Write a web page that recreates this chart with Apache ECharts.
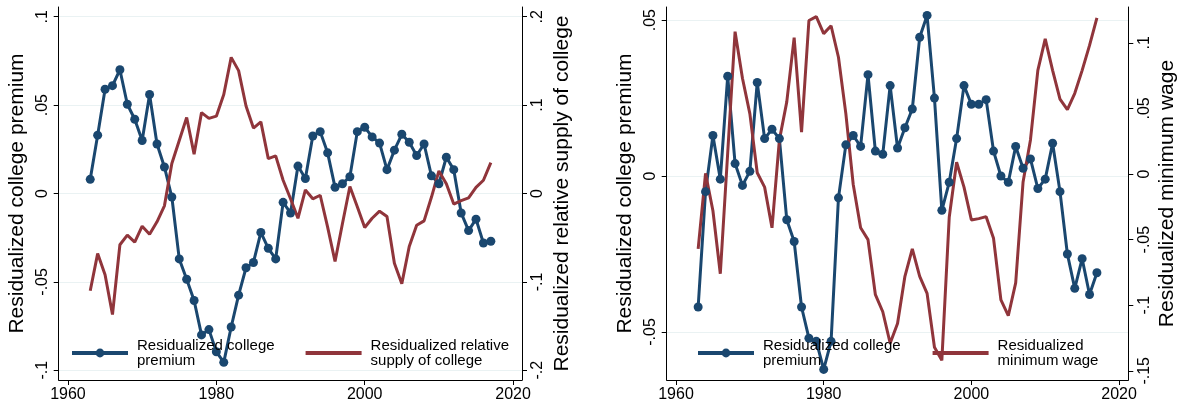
<!DOCTYPE html>
<html>
<head>
<meta charset="utf-8">
<script src="https://cdn.jsdelivr.net/npm/echarts@6/dist/echarts.min.js"></script>
<style>
  html, body { margin: 0; padding: 0; background: #fff; }
  #chart { width: 1180px; height: 411px; }
</style>
</head>
<body>
<div id="chart"></div>
<script>
const years = [
  1963, 1964, 1965, 1966, 1967, 1968, 1969, 1970, 1971, 1972,
  1973, 1974, 1975, 1976, 1977, 1978, 1979, 1980, 1981, 1982,
  1983, 1984, 1985, 1986, 1987, 1988, 1989, 1990, 1991, 1992,
  1993, 1994, 1995, 1996, 1997, 1998, 1999, 2000, 2001, 2002,
  2003, 2004, 2005, 2006, 2007, 2008, 2009, 2010, 2011, 2012,
  2013, 2014, 2015, 2016, 2017
];

// left panel
const premiumA = [
  0.008, 0.033, 0.059, 0.061, 0.070, 0.0505, 0.042, 0.030, 0.056, 0.028,
  0.015, -0.002, -0.037, -0.0485, -0.0605, -0.080, -0.077, -0.0895, -0.0955, -0.0755,
  -0.0575, -0.042, -0.039, -0.022, -0.031, -0.037, -0.005, -0.011, 0.0155, 0.0085,
  0.0325, 0.035, 0.023, 0.0035, 0.0055, 0.0095, 0.035, 0.0375, 0.032, 0.0285,
  0.0135, 0.0245, 0.0335, 0.029, 0.0215, 0.028, 0.010, 0.0055, 0.0205, 0.0135,
  -0.011, -0.021, -0.0145, -0.028, -0.027
];
const supplyA = [
  -0.110, -0.068, -0.092, -0.137, -0.058, -0.047, -0.055, -0.037, -0.046, -0.032,
  -0.014, 0.034, 0.060, 0.086, 0.0445, 0.0915, 0.085, 0.0875, 0.112, 0.154,
  0.139, 0.099, 0.074, 0.081, 0.0395, 0.0425, 0.015, -0.006, -0.028, 0.004,
  -0.006, -0.002, -0.038, -0.077, -0.034, 0.008, -0.015, -0.0385, -0.028, -0.020,
  -0.026, -0.079, -0.102, -0.060, -0.036, -0.031, -0.004, 0.0255, 0.011, -0.012,
  -0.008, -0.005, 0.007, 0.015, 0.035
];

// right panel
const premiumB = [
  -0.042, -0.005, 0.013, -0.001, 0.032, 0.004, -0.003, 0.0015, 0.030, 0.012,
  0.015, 0.012, -0.014, -0.021, -0.042, -0.052, -0.053, -0.062, -0.053, -0.007,
  0.010, 0.013, 0.0095, 0.0325, 0.008, 0.007, 0.029, 0.009, 0.0155, 0.0215,
  0.0445, 0.0515, 0.025, -0.011, -0.002, 0.012, 0.029, 0.023, 0.023, 0.0245,
  0.008, 0.0, -0.002, 0.0095, 0.0025, 0.0055, -0.004, -0.001, 0.0105, -0.005,
  -0.025, -0.036, -0.0265, -0.038, -0.031
];
const minwageB = [
  -0.057, 0.0005, -0.028, -0.076, 0.016, 0.1085, 0.073, 0.046, 0.001, -0.010,
  -0.041, 0.026, 0.055, 0.104, 0.032, 0.117, 0.120, 0.107, 0.113, 0.089,
  0.046, -0.008, -0.041, -0.050, -0.092, -0.105, -0.129, -0.114, -0.078, -0.057,
  -0.078, -0.091, -0.132, -0.142, -0.033, 0.009, -0.010, -0.035, -0.034, -0.0325,
  -0.049, -0.096, -0.108, -0.083, -0.006, 0.026, 0.079, 0.103, 0.079, 0.057,
  0.049, 0.0615, 0.079, 0.098, 0.119
];

const xTicks = [1960, 1980, 2000, 2020];
const leftTicksA = [-0.1, -0.05, 0, 0.05, 0.1];
const rightTicksA = [-0.2, -0.1, 0, 0.1, 0.2];
const leftTicksB = [-0.05, 0, 0.05];
const rightTicksB = [-0.15, -0.1, -0.05, 0, 0.05, 0.1];

// legend labels, two lines each like the original
const legendText = {
  'Residualized college premium': 'Residualized college\npremium',
  'Residualized college premium ': 'Residualized college\npremium',
  'Residualized relative supply of college': 'Residualized relative\nsupply of college',
  'Residualized minimum wage': 'Residualized\nminimum wage'
};

const NAVY = '#1a476f';
const MAROON = '#90353b';
const FONT = 'Liberation Sans, Arial, Helvetica, sans-serif';

const fmt = (v) => String(+Number(v).toFixed(4)).replace('0.', '.');
const pairs = (vals) => years.map((y, i) => [y, vals[i]]);

function xAxisFor(gi, min, max) {
  return {
    gridIndex: gi, type: 'value', min: min, max: max,
    axisLine: { show: true, onZero: false, lineStyle: { color: '#000', width: 1 } },
    axisTick: { show: true, customValues: xTicks, length: 5, lineStyle: { color: '#000' } },
    axisLabel: { customValues: xTicks, formatter: (v) => String(v), fontSize: 16, color: '#000', fontFamily: FONT, margin: 7 },
    splitLine: { show: false }
  };
}

function yAxisFor(gi, pos, min, max, ticks, name, gap, grid) {
  return {
    gridIndex: gi, type: 'value', position: pos, min: min, max: max,
    axisLine: { show: true, onZero: false, lineStyle: { color: '#000', width: 1 } },
    axisTick: { show: true, customValues: ticks, length: 5, lineStyle: { color: '#000' } },
    axisLabel: { customValues: ticks, rotate: 90, formatter: fmt, fontSize: 16, color: '#000', fontFamily: FONT, margin: 8 },
    splitLine: { show: grid, lineStyle: { color: '#eaf2f3', width: 1 } },
    name: name, nameLocation: 'middle', nameGap: gap,
    nameTextStyle: { fontSize: 21, color: '#000', fontFamily: FONT }
  };
}

function legendFor(left, gap, blue, red) {
  return {
    left: left, top: 338, padding: 0, itemGap: gap,
    itemWidth: 56, itemHeight: 11,
    data: [blue, { name: red, itemStyle: { opacity: 0 } }],
    lineStyle: { width: 4 },
    formatter: (n) => legendText[n],
    textStyle: { fontSize: 15, lineHeight: 15, color: '#000', fontFamily: FONT, padding: [0, 0, 0, 4] }
  };
}

const chart = echarts.init(document.getElementById('chart'));
chart.setOption({
  animation: false,
  backgroundColor: '#fff',
  grid: [
    { left: 58.7, right: 658, top: 7, bottom: 31 },
    { left: 666.7, right: 51.7, top: 7, bottom: 31 }
  ],
  xAxis: [
    xAxisFor(0, 1958.75, 2021.2),
    xAxisFor(1, 1958.74, 2021.25)
  ],
  yAxis: [
    yAxisFor(0, 'left', -0.1055, 0.1055, leftTicksA, 'Residualized college premium', 31, true),
    yAxisFor(0, 'right', -0.211, 0.211, rightTicksA, 'Residualized relative supply of college', 30, false),
    yAxisFor(1, 'left', -0.0654, 0.0542, leftTicksB, 'Residualized college premium', 31, true),
    yAxisFor(1, 'right', -0.157, 0.1273, rightTicksB, 'Residualized minimum wage', 28, false)
  ],
  legend: [
    legendFor(70, 29, 'Residualized college premium', 'Residualized relative supply of college'),
    legendFor(696, 30, 'Residualized college premium ', 'Residualized minimum wage')
  ],
  series: [
    {
      name: 'Residualized college premium', type: 'line', xAxisIndex: 0, yAxisIndex: 0,
      data: pairs(premiumA), symbol: 'circle', symbolSize: 9,
      lineStyle: { color: NAVY, width: 3 }, itemStyle: { color: NAVY }
    },
    {
      name: 'Residualized relative supply of college', type: 'line', xAxisIndex: 0, yAxisIndex: 1,
      data: pairs(supplyA), symbol: 'none',
      lineStyle: { color: MAROON, width: 3 }, itemStyle: { color: MAROON }
    },
    {
      name: 'Residualized college premium ', type: 'line', xAxisIndex: 1, yAxisIndex: 2,
      data: pairs(premiumB), symbol: 'circle', symbolSize: 9,
      lineStyle: { color: NAVY, width: 3 }, itemStyle: { color: NAVY }
    },
    {
      name: 'Residualized minimum wage', type: 'line', xAxisIndex: 1, yAxisIndex: 3,
      data: pairs(minwageB), symbol: 'none',
      lineStyle: { color: MAROON, width: 3 }, itemStyle: { color: MAROON }
    }
  ]
});
</script>
</body>
</html>
